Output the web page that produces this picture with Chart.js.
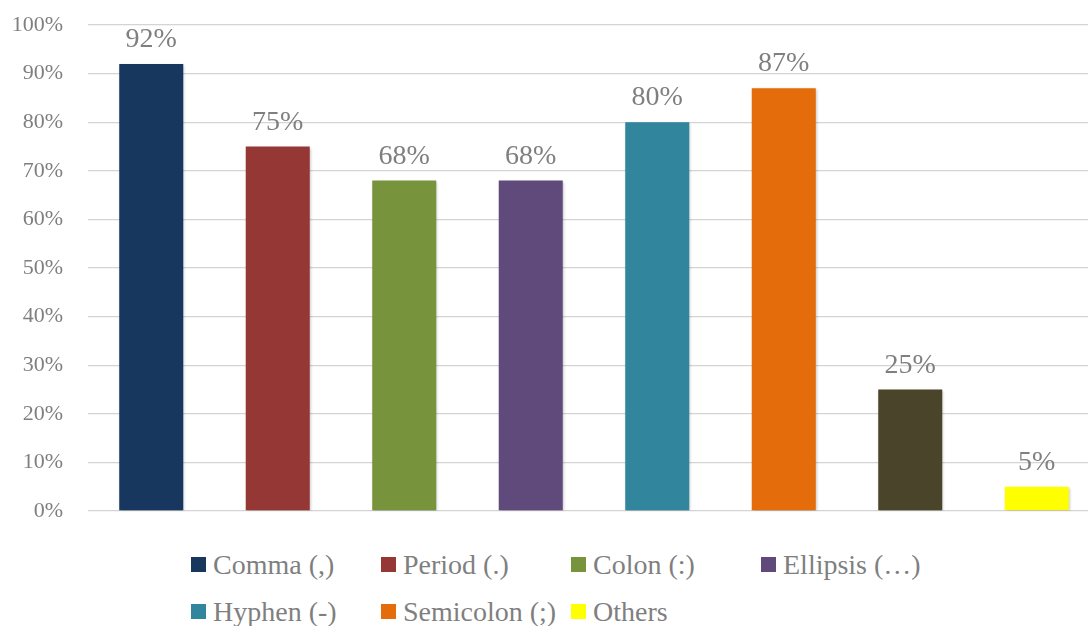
<!DOCTYPE html>
<html>
<head>
<meta charset="utf-8">
<script src="https://cdn.jsdelivr.net/npm/chart.js@4/dist/chart.umd.min.js"></script>
<style>
    html, body { margin: 0; padding: 0; background: #fff; }
    #wrap { position: relative; width: 1088px; height: 626px; overflow: hidden; }
    #chart { position: absolute; left: 0; top: 0; }
    #legend {
        position: absolute; left: 191px; top: 541px;
        display: grid; grid-template-columns: repeat(4, 190px);
        font-family: 'Liberation Serif', serif;
        font-size: 28px; color: #7f7f7f;
    }
    #legend .item { display: flex; align-items: center; height: 47px; white-space: nowrap; }
    #legend .box { width: 15px; height: 15px; margin-right: 7px; flex: none; }
</style>
</head>
<body>
<div id="wrap">
    <canvas id="chart"></canvas>
    <div id="legend"></div>
</div>
<script>
const categories = ['Comma (,)', 'Period (.)', 'Colon (:)', 'Ellipsis (…)', 'Hyphen (-)', 'Semicolon (;)', '', 'Others'];
const shares = [92, 75, 68, 68, 80, 87, 25, 5];
const barColors = ['#17375e', '#953735', '#77933c', '#604a7b', '#31859c', '#e46c0a', '#4a452a', '#ffff00'];
const yTicks = [0, 10, 20, 30, 40, 50, 60, 70, 80, 90, 100];

const serif = 'Liberation Serif';
const grey = '#7f7f7f';

// soft drop shadow under the bars
const barShadow = {
    id: 'barShadow',
    beforeDatasetsDraw(chart) {
        const ctx = chart.ctx;
        ctx.save();
        ctx.shadowColor = 'rgba(0,0,0,0.28)';
        ctx.shadowBlur = 3;
        ctx.shadowOffsetX = 1;
        ctx.shadowOffsetY = 1;
    },
    afterDatasetsDraw(chart) {
        chart.ctx.restore();
    }
};

// percentage printed above each bar
const valueLabels = {
    id: 'valueLabels',
    afterDatasetsDraw(chart) {
        const ctx = chart.ctx;
        const meta = chart.getDatasetMeta(0);
        ctx.save();
        ctx.font = `28px "${serif}"`;
        ctx.fillStyle = grey;
        ctx.textAlign = 'center';
        ctx.textBaseline = 'alphabetic';
        meta.data.forEach((bar, i) => {
            ctx.fillText(shares[i] + '%', bar.x, bar.y - 17);
        });
        ctx.restore();
    }
};

const canvas = document.getElementById('chart');
canvas.width = 1100;
canvas.height = 540;

const chart = new Chart(canvas, {
    type: 'bar',
    data: {
        labels: categories,
        datasets: [{
            data: shares,
            backgroundColor: barColors,
            borderWidth: 0,
            barPercentage: 0.506,
            categoryPercentage: 1
        }]
    },
    options: {
        responsive: false,
        animation: false,
        layout: { padding: { top: 25, bottom: 29, left: 0, right: 0 } },
        plugins: {
            legend: { display: false },
            tooltip: { enabled: false }
        },
        scales: {
            x: { display: false },
            y: {
                min: 0,
                max: 100,
                afterBuildTicks: s => { s.ticks = yTicks.map(v => ({ value: v })); },
                afterFit: s => {
                    // fixed gutter for the labels, no extra room above/below
                    s.width = 88;
                    s.paddingTop = 0;
                    s.paddingBottom = 0;
                },
                border: { display: false },
                grid: { color: '#d4d4d4', lineWidth: 1.3, drawTicks: false },
                ticks: {
                    padding: 25,
                    color: grey,
                    font: { family: serif, size: 22 },
                    callback: v => v + '%'
                }
            }
        }
    },
    plugins: [barShadow, valueLabels]
});

// legend in fixed columns, skipping the unnamed bar
const legend = document.getElementById('legend');
categories.forEach((name, i) => {
    if (!name) return;
    const item = document.createElement('div');
    item.className = 'item';
    item.innerHTML = `<span class="box" style="background:${barColors[i]}"></span><span>${name}</span>`;
    legend.appendChild(item);
});
</script>
</body>
</html>
